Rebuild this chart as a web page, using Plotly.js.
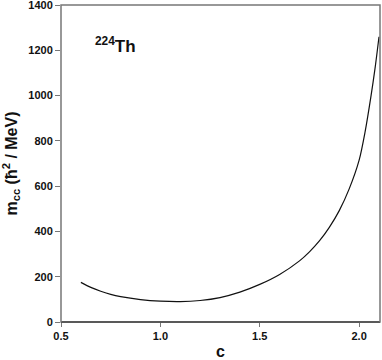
<!DOCTYPE html>
<html>
<head>
<meta charset="utf-8">
<script src="https://cdn.plot.ly/plotly-3.0.1.min.js"></script>
<style>
  html, body { margin: 0; padding: 0; background: #fff; }
  #chart { width: 382px; height: 360px; }
</style>
</head>
<body>
<div id="chart"></div>
<script>
// deformation parameter c and mass parameter m_cc
const cValues = [0.6, 0.65, 0.7, 0.75, 0.8, 0.9, 1.0, 1.1, 1.2, 1.3, 1.4, 1.5, 1.6, 1.7, 1.75, 1.8, 1.85, 1.9, 1.95, 2.0, 2.03, 2.06, 2.08, 2.1];
const mccValues = [175, 153, 136, 122, 112, 99, 92, 90, 95, 108, 132, 166, 210, 270, 310, 358, 418, 492, 588, 715, 840, 1000, 1120, 1260];
const xTicks = [0.5, 1.0, 1.5, 2.0];
const xTickText = ['0.5', '1.0', '1.5', '2.0'];
const yTicks = [0, 200, 400, 600, 800, 1000, 1200, 1400];

const font = 'Liberation Sans, Arial, sans-serif';

const trace = {
    x: cValues,
    y: mccValues,
    type: 'scatter',
    mode: 'lines',
    line: { color: '#111', width: 1.2, shape: 'spline', smoothing: 0.8 },
    hoverinfo: 'skip'
};

const layout = {
    width: 382,
    height: 360,
    margin: { l: 61, r: 2, t: 5, b: 38 },
    paper_bgcolor: '#fff',
    plot_bgcolor: '#fff',
    showlegend: false,
    font: { family: font, color: '#111' },
    xaxis: {
        range: [0.5, 2.105],
        tickvals: xTicks,
        ticktext: xTickText,
        ticks: 'outside',
        ticklen: 4,
        tickcolor: '#777',
        showgrid: false,
        zeroline: false,
        showline: false,
        tickfont: { size: 11, weight: 'bold' },
        title: { text: 'c', font: { size: 16, weight: 'bold' }, standoff: 6 }
    },
    yaxis: {
        range: [0, 1400],
        tickvals: yTicks,
        ticks: 'outside',
        ticklen: 5,
        tickcolor: '#777',
        ticklabeloverflow: 'allow',
        showgrid: false,
        zeroline: true,
        zerolinecolor: '#000',
        zerolinewidth: 1.5,
        showline: false,
        tickfont: { size: 11, weight: 'bold' },
        title: {
            text: 'm<sub>cc</sub> (ħ<sup>2</sup> / MeV)',
            font: { size: 16, weight: 'bold' },
            standoff: 8
        }
    },
    shapes: [{
        type: 'rect', xref: 'paper', yref: 'paper',
        x0: 0, x1: 1, y0: 0, y1: 1,
        line: { color: '#777', width: 1.5 }
    }],
    annotations: [{
        x: 0.66, y: 1225, xref: 'x', yref: 'y',
        xanchor: 'left', yanchor: 'middle',
        text: '<sup>224</sup>Th',
        showarrow: false,
        font: { size: 17, weight: 'bold', family: font }
    }]
};

Plotly.newPlot('chart', [trace], layout, { displayModeBar: false, staticPlot: true });
</script>
</body>
</html>
